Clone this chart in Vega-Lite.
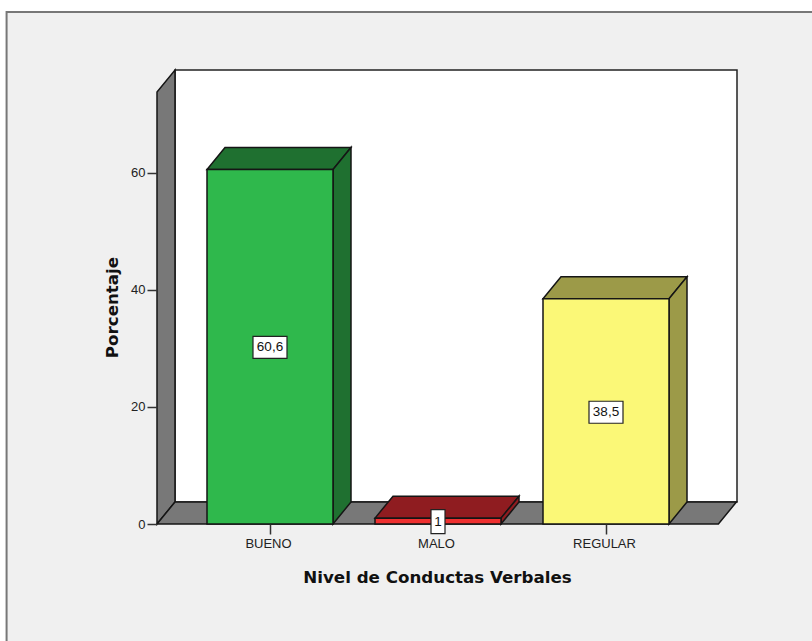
{
"$schema":"https://vega.github.io/schema/vega-lite/v6.json",
"width":580,"height":454,
"autosize":"none",
"padding":{"left":157,"top":70,"right":75,"bottom":117},
"background":"#ffffff",
"config":{"view":{"stroke":null},"font":"Liberation Sans"},
"datasets":{
"barras":[
{"Nivel":"BUENO","Porcentaje":60.6,"Etiqueta":"60,6","Medio":30.2},
{"Nivel":"MALO","Porcentaje":1,"Etiqueta":"1","Medio":0.4},
{"Nivel":"REGULAR","Porcentaje":38.5,"Etiqueta":"38,5","Medio":19.1}],
"marco":[{"x":-0.568,"x2":4.75,"y":-30,"y2":87.5}],
"fondo":[{"x":0.43452,"x2":3.77976,"y":3.76,"y2":77.6}],
"caras":[
{"cara":"pared","x":0.32738,"y":0,"y2":73.84},
{"cara":"pared","x":0.43452,"y":3.76,"y2":77.6},
{"cara":"suelo","x":0.32738,"y":0,"y2":0},
{"cara":"suelo","x":0.43452,"y":0,"y2":3.76},
{"cara":"suelo","x":3.66905,"y":0,"y2":3.76},
{"cara":"suelo","x":3.77619,"y":3.76,"y2":3.76},
{"cara":"BUENO arriba","x":0.625,"y":60.6,"y2":60.6},
{"cara":"BUENO arriba","x":0.73214,"y":60.6,"y2":64.36},
{"cara":"BUENO arriba","x":1.375,"y":60.6,"y2":64.36},
{"cara":"BUENO arriba","x":1.48214,"y":64.36,"y2":64.36},
{"cara":"BUENO lado","x":1.375,"y":0,"y2":60.6},
{"cara":"BUENO lado","x":1.48214,"y":3.76,"y2":64.36},
{"cara":"MALO arriba","x":1.625,"y":1,"y2":1},
{"cara":"MALO arriba","x":1.73214,"y":1,"y2":4.76},
{"cara":"MALO arriba","x":2.375,"y":1,"y2":4.76},
{"cara":"MALO arriba","x":2.48214,"y":4.76,"y2":4.76},
{"cara":"MALO lado","x":2.375,"y":0,"y2":1},
{"cara":"MALO lado","x":2.48214,"y":3.76,"y2":4.76},
{"cara":"REGULAR arriba","x":2.625,"y":38.5,"y2":38.5},
{"cara":"REGULAR arriba","x":2.73214,"y":38.5,"y2":42.26},
{"cara":"REGULAR arriba","x":3.375,"y":38.5,"y2":42.26},
{"cara":"REGULAR arriba","x":3.48214,"y":42.26,"y2":42.26},
{"cara":"REGULAR lado","x":3.375,"y":0,"y2":38.5},
{"cara":"REGULAR lado","x":3.48214,"y":3.76,"y2":42.26}
]},
"resolve":{"scale":{"x":"independent","color":"independent"},"axis":{"x":"independent","y":"independent"}},
"layer":[
{"data":{"name":"marco"},"mark":{"type":"rect","fill":"#f0f0f0","stroke":"#777777","strokeWidth":2},
 "encoding":{"x":{"field":"x","type":"quantitative","scale":{"domain":[0.32738,3.77976],"nice":false,"zero":false},"axis":null},"x2":{"field":"x2"},
 "y":{"field":"y","type":"quantitative","scale":{"domain":[0,77.6],"nice":false},"axis":null},"y2":{"field":"y2"}}},
{"data":{"name":"fondo"},"mark":{"type":"rect","fill":"#ffffff","stroke":"#222222","strokeWidth":1.5},
 "encoding":{"x":{"field":"x","type":"quantitative","scale":{"domain":[0.32738,3.77976],"nice":false,"zero":false},"axis":null},"x2":{"field":"x2"},
 "y":{"field":"y","type":"quantitative","axis":null},"y2":{"field":"y2"}}},
{"data":{"name":"caras"},"mark":{"type":"area","stroke":"#151515","strokeWidth":1.5,"opacity":1,"line":false},
 "encoding":{"x":{"field":"x","type":"quantitative","scale":{"domain":[0.32738,3.77976],"nice":false,"zero":false},"axis":null},
 "y":{"field":"y","type":"quantitative","axis":null,"stack":null},"y2":{"field":"y2"},
 "color":{"field":"cara","type":"nominal","legend":null,"sort":null,"scale":{
  "domain":["pared","suelo","BUENO arriba","BUENO lado","MALO arriba","MALO lado","REGULAR arriba","REGULAR lado"],
  "range":["#787878","#787878","#1f7030","#1f7030","#8f1c20","#8f1c20","#9c9a48","#9c9a48"]}}}},
{"data":{"name":"barras"},"mark":{"type":"bar","stroke":"#151515","strokeWidth":1.5},
 "encoding":{"x":{"field":"Nivel","type":"nominal","sort":null,"title":"Nivel de Conductas Verbales",
   "scale":{"type":"band","paddingInner":0.25,"paddingOuter":0.35119,"align":0.42373},
   "axis":{"zindex":1,"labelAngle":0,"domain":false,"tickColor":"#333333","tickSize":10,"tickWidth":1.5,"labelColor":"#222222","labelFont":"Liberation Sans","labelFontSize":13,"labelPadding":3,"labelOffset":-1.5,"titleFont":"DejaVu Sans","titleFontSize":16.7,"titleFontWeight":"bold","titleColor":"#111111","titlePadding":19,"titleX":280,"tickOpacity":{"condition":{"test":"datum.value==='MALO'","value":0},"value":1}}},
  "y":{"field":"Porcentaje","type":"quantitative","title":"Porcentaje",
   "axis":{"zindex":1,"values":[0,20,40,60],"grid":false,"domain":false,"tickColor":"#333333","tickSize":10,"tickWidth":1.5,"labelColor":"#222222","labelFont":"Liberation Sans","labelFontSize":13,"labelPadding":2,"titleFont":"DejaVu Sans","titleFontSize":16.7,"titleFontWeight":"bold","titleColor":"#111111","titlePadding":9,"titleY":237}},
  "color":{"field":"Nivel","type":"nominal","legend":null,"sort":null,"scale":{"domain":["BUENO","MALO","REGULAR"],"range":["#2fb84c","#ee3030","#fbf877"]}}}},
{"data":{"name":"barras"},"transform":[{"filter":"datum.Porcentaje>5"}],"mark":{"type":"rect","width":34,"height":22,"fill":"#ffffff","stroke":"#222222","strokeWidth":1.2},
 "encoding":{"x":{"field":"Nivel","type":"nominal","sort":null,"axis":null,"scale":{"type":"band","domain":["BUENO","MALO","REGULAR"],"paddingInner":0.25,"paddingOuter":0.35119,"align":0.42373}},
 "y":{"field":"Medio","type":"quantitative","axis":null}}},
{"data":{"name":"barras"},"transform":[{"filter":"datum.Porcentaje<5"}],"mark":{"type":"rect","width":14,"height":24,"fill":"#ffffff","stroke":"#222222","strokeWidth":1.2},
 "encoding":{"x":{"field":"Nivel","type":"nominal","sort":null,"axis":null,"scale":{"type":"band","domain":["BUENO","MALO","REGULAR"],"paddingInner":0.25,"paddingOuter":0.35119,"align":0.42373}},
 "y":{"field":"Medio","type":"quantitative","axis":null}}},
{"data":{"name":"barras"},"mark":{"type":"text","font":"Liberation Sans","fontSize":13.5,"color":"#111111"},
 "encoding":{"x":{"field":"Nivel","type":"nominal","sort":null,"axis":null,"scale":{"type":"band","domain":["BUENO","MALO","REGULAR"],"paddingInner":0.25,"paddingOuter":0.35119,"align":0.42373}},
 "y":{"field":"Medio","type":"quantitative","axis":null},"text":{"field":"Etiqueta","type":"nominal"}}}
]
}
